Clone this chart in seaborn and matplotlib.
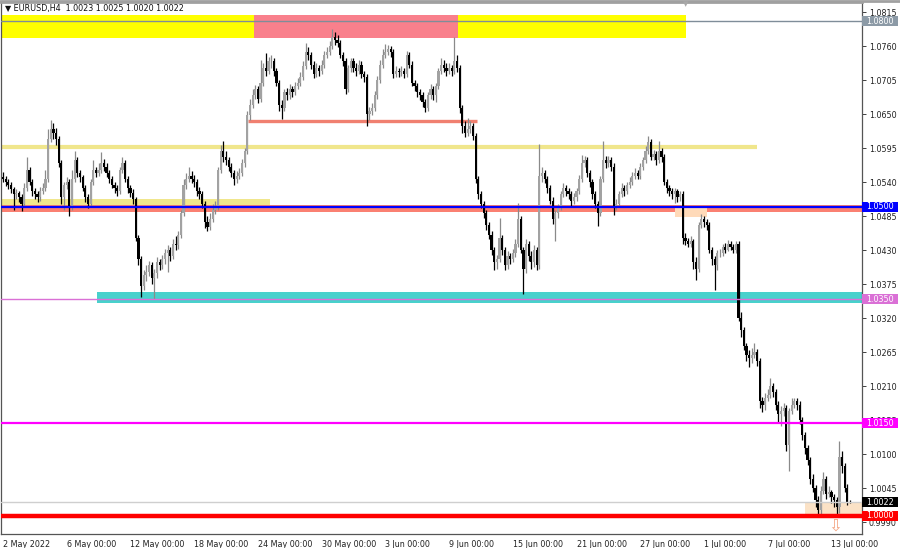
import matplotlib
matplotlib.use("Agg")
import matplotlib.pyplot as plt
import matplotlib.transforms as mtransforms
from matplotlib.lines import Line2D
from matplotlib.patches import Rectangle
import pandas as pd
import seaborn as sns

# ---- data (prices in pips above 1.0000, 4-hour bars from 2 May 2022) ----
title_text = "\u25bc EURUSD,H4  1.0023 1.0025 1.0020 1.0022"
first_open = 548

close_pips = [
    545, 540, 535, 528, 520, 522,  515, 505, 530, 560, 540, 525,
    520, 515, 525, 530, 545, 610,  625, 620, 610, 570, 515, 535,
    540, 500, 545, 575, 555, 548,  530, 515, 505, 540, 560, 555,
    560, 570, 565, 555, 545, 535,  530, 525, 560, 570, 545, 530,
    522, 512, 450, 415, 372, 390,  395, 405, 385, 392, 410, 405,
    415, 425, 430, 420, 440, 438,  455, 490, 535, 545, 550, 545,
    540, 525, 520, 505, 475, 468,  480, 495, 500, 560, 590, 580,
    575, 565, 555, 545, 550, 555,  570, 590, 648, 665, 680, 690,
    675, 700, 725, 720, 735, 735,  720, 700, 665, 660, 685, 680,
    690, 685, 695, 700, 710, 728,  750, 745, 730, 715, 725, 720,
    730, 745, 750, 760, 775, 770,  765, 745, 735, 690, 725, 735,
    725, 720, 730, 715, 710, 650,  655, 660, 680, 705, 730, 745,
    750, 755, 750, 715, 720, 718,  720, 715, 745, 730, 700, 695,
    685, 680, 670, 660, 680, 690,  680, 695, 720, 730, 725, 720,
    725, 720, 735, 725, 660, 630,  620, 625, 630, 615, 545, 520,
    505, 490, 470, 455, 430, 410,  415, 450, 430, 405, 420, 415,
    425, 440, 480, 430, 400, 440,  420, 410, 430, 405, 550, 555,
    545, 530, 510, 480, 490, 500,  520, 530, 525, 520, 510, 515,
    525, 545, 570, 575, 555, 540,  520, 505, 490, 545, 575, 570,
    575, 565, 500, 505, 520, 530,  525, 535, 540, 550, 555, 550,
    565, 575, 590, 605, 580, 585,  575, 590, 580, 540, 530, 525,
    520, 525, 515, 520, 450, 445,  440, 445, 410, 400, 470, 480,
    475, 470, 430, 415, 405, 425,  425, 435, 430, 440, 435, 430,
    440, 320, 300, 275, 260, 255,  260, 265, 250, 185, 180, 190,
    195, 210, 200, 180, 165, 170,  175, 115, 170, 180, 185, 180,
    155, 130, 110, 90, 60, 45,     25, 10, 40, 60, 35, 38,
    30, 25, 15, 95, 80, 45,        23, 22,
]
high_pips = [
    556, 550, 545, 540, 532, 528,  526, 520, 538, 580, 565, 545,
    530, 525, 532, 538, 560, 625,  641, 635, 628, 615, 575, 540,
    548, 545, 560, 590, 580, 560,  552, 535, 520, 545, 575, 565,
    570, 588, 578, 570, 560, 550,  540, 535, 565, 580, 575, 550,
    535, 528, 515, 455, 420, 398,  405, 412, 410, 400, 418, 415,
    422, 432, 438, 435, 448, 452,  460, 495, 545, 555, 564, 558,
    552, 545, 532, 525, 510, 485,  490, 505, 510, 565, 600, 607,
    590, 580, 570, 560, 558, 562,  578, 595, 655, 675, 690, 697,
    695, 737, 732, 748, 742, 745,  740, 725, 705, 672, 690, 692,
    698, 695, 702, 708, 718, 735,  765, 758, 750, 735, 732, 730,
    738, 752, 758, 768, 787, 782,  778, 770, 750, 740, 730, 740,
    740, 732, 738, 735, 720, 715,  662, 668, 688, 712, 738, 755,
    764, 762, 760, 755, 728, 725,  728, 725, 752, 750, 735, 705,
    700, 690, 685, 675, 685, 698,  695, 700, 725, 740, 738, 732,
    732, 730, 774, 745, 730, 665,  638, 643, 638, 635, 620, 550,
    525, 510, 495, 475, 460, 435,  422, 482, 455, 435, 428, 425,
    432, 448, 506, 485, 435, 448,  445, 428, 438, 435, 601, 565,
    560, 550, 535, 515, 495, 505,  525, 538, 535, 530, 525, 522,
    530, 552, 584, 582, 580, 560,  545, 525, 510, 550, 606, 582,
    582, 580, 570, 512, 525, 538,  535, 540, 548, 556, 562, 560,
    570, 580, 598, 615, 610, 592,  590, 606, 595, 585, 545, 535,
    530, 530, 528, 525, 525, 458,  450, 452, 448, 418, 475, 488,
    485, 480, 475, 435, 420, 430,  432, 440, 442, 446, 445, 440,
    445, 445, 330, 305, 280, 268,  272, 280, 270, 255, 192, 198,
    205, 223, 215, 205, 185, 178,  182, 180, 175, 190, 191, 190,
    185, 160, 135, 115, 95, 68,    50, 32, 48, 71, 65, 48,
    42, 35, 30, 121, 105, 85,      52, 25,
]
low_pips = [
    540, 533, 528, 522, 495, 512,  508, 493, 500, 525, 535, 518,
    512, 508, 510, 520, 525, 540,  605, 610, 600, 565, 505, 495,
    528, 485, 495, 540, 548, 540,  525, 508, 498, 500, 535, 548,
    550, 555, 558, 548, 538, 530,  522, 518, 520, 555, 540, 522,
    515, 505, 445, 405, 354, 365,  380, 388, 375, 351, 385, 398,
    400, 408, 395, 412, 415, 430,  432, 450, 485, 528, 540, 538,
    532, 518, 512, 498, 465, 460,  462, 475, 488, 495, 555, 572,
    568, 558, 548, 535, 538, 545,  550, 565, 585, 640, 660, 675,
    668, 670, 695, 712, 715, 725,  712, 695, 655, 642, 655, 672,
    675, 678, 680, 690, 695, 705,  722, 738, 722, 708, 710, 712,
    715, 725, 740, 745, 755, 762,  758, 740, 728, 682, 686, 718,
    718, 712, 715, 708, 702, 630,  640, 648, 655, 675, 700, 725,
    740, 745, 742, 708, 710, 710,  712, 708, 710, 725, 695, 688,
    678, 672, 662, 653, 655, 675,  672, 669, 690, 715, 718, 712,
    715, 712, 715, 718, 652, 620,  612, 615, 620, 608, 538, 512,
    498, 482, 462, 448, 422, 398,  400, 410, 422, 397, 400, 408,
    410, 418, 435, 425, 359, 392,  412, 400, 402, 398, 400, 540,
    538, 522, 505, 472, 445, 482,  495, 515, 518, 512, 500, 505,
    510, 520, 540, 565, 548, 532,  512, 498, 469, 485, 540, 562,
    565, 558, 487, 495, 500, 515,  518, 520, 530, 535, 545, 545,
    545, 560, 570, 585, 575, 575,  568, 570, 572, 535, 522, 518,
    512, 506, 508, 510, 440, 438,  435, 435, 400, 382, 395, 465,
    468, 462, 425, 405, 366, 398,  418, 420, 425, 428, 430, 425,
    425, 315, 290, 268, 250, 240,  248, 255, 242, 175, 168, 172,
    185, 190, 192, 172, 150, 145,  162, 105, 72, 165, 175, 172,
    148, 122, 100, 82, 52, 38,     15, 0, 2, 35, 28, 30,
    20, 15, 2, 5, 70, 38,          18, 20,
]

date_label_bars = [0, 24, 48, 72, 96, 120, 144, 168, 192, 216, 240, 264, 288, 312]
date_labels = ["2 May 2022", "6 May 00:00", "12 May 00:00", "18 May 00:00",
               "24 May 00:00", "30 May 00:00", "3 Jun 00:00", "9 Jun 00:00",
               "15 Jun 00:00", "21 Jun 00:00", "27 Jun 00:00", "1 Jul 00:00",
               "7 Jul 00:00", "13 Jul 00:00"]

price_ticks = [1.0815, 1.0760, 1.0705, 1.0650, 1.0595, 1.0540, 1.0485, 1.0430,
               1.0375, 1.0320, 1.0265, 1.0210, 1.0155, 1.0100, 1.0045, 0.9990]

# rectangles drawn on the chart: start bar, end bar (None = edge), low, high, colour
zones = [
    (None, 257.3, 1.0773, 1.0810, "#ffff00"),
    (94.5, 171.4, 1.0773, 1.0810, "#f9808c"),
    (None, 100.6, 1.0503, 1.0513, "#f0e68c"),
    (None, None, 1.0491, 1.0503, "#fa8072"),
    (253.0, 265.0, 1.0483, 1.0500, "#ffdab9"),
    (35.4, None, 1.0344, 1.0362, "#48d1cc"),
    (302.0, None, 1.0003, 1.0021, "#fbe2c6"),
]
# level segments: start bar, end bar, price, colour, width
segments = [
    (92.3, 178.5, 1.0639, "#f08070", 2.4),
    (None, 284.0, 1.0597, "#f0e68c", 3.0),
]
# horizontal lines across the chart with their price tag colour
levels = [
    (1.0800, "#7f8d99", 1.0, "#8c9aa6"),
    (1.0500, "#0000ff", 1.6, "#0000ff"),
    (1.0350, "#da70d6", 1.0, "#da70d6"),
    (1.0150, "#ff00ff", 1.6, "#ff00ff"),
    (1.0022, "#cfcfcf", 1.0, "#000000"),
    (1.0000, "#ff0000", 3.2, "#ff0000"),
]

# ---- build frame ----
df = pd.DataFrame({"close": close_pips, "high": high_pips, "low": low_pips})
df["open"] = [first_open] + close_pips[:-1]
df = 1.0 + df / 10000.0
df["bar"] = range(len(df))
df["bull"] = df["close"] >= df["open"]

sns.set_theme(style="white")
plt.rcParams["font.family"] = ["DejaVu Sans"]

fig = plt.figure(figsize=(9, 5.48), dpi=100)
ax = fig.add_axes([1 / 900, 14 / 548, 861 / 900, 532 / 548])
x_lo, x_hi = -0.75, 323.5
ax.set_xlim(x_lo, x_hi)
ax.set_ylim(0.997061, 1.083118)

for x0, x1, lo, hi, col in zones:
    x0 = x_lo if x0 is None else x0
    x1 = x_hi if x1 is None else x1
    ax.fill_between([x0, x1], lo, hi, color=col, linewidth=0, zorder=1)

for x0, x1, p, col, lw in segments:
    x0 = x_lo if x0 is None else x0
    ax.hlines(p, x0, x1, color=col, lw=lw, zorder=1.5)

# candles
bull = df[df["bull"]]
bear = df[~df["bull"]]
ax.vlines(bull["bar"], bull["low"], bull["high"], color="#8a8a8a", lw=0.9, zorder=3)
ax.vlines(bear["bar"], bear["low"], bear["high"], color="#000000", lw=0.9, zorder=3)
body_min = 0.00004
ax.bar(bull["bar"], (bull["close"] - bull["open"]).clip(lower=body_min), bottom=bull["open"],
       width=0.82, color="#a2a2a2", linewidth=0, zorder=3.1)
ax.bar(bear["bar"], (bear["open"] - bear["close"]).clip(lower=body_min), bottom=bear["close"],
       width=0.82, color="#000000", linewidth=0, zorder=3.1)

# level lines + price tags on the axis
trans = mtransforms.blended_transform_factory(ax.transAxes, ax.transData)
tag_w = 36 / 861
tag_h = 10 / 6182
for p, col, lw, tag in levels:
    ax.axhline(p, color=col, lw=lw, zorder=4)
    ax.add_patch(Rectangle((1.0, p - tag_h / 2), tag_w, tag_h, transform=trans,
                           fc=tag, ec="none", clip_on=False, zorder=9))
    ax.text(1.0 + 4 / 861, p, f"{p:.4f}", transform=trans, ha="left", va="center",
            fontsize=5.8, color="white", clip_on=False, zorder=10)

# axes styling
ax.yaxis.tick_right()
ax.set_yticks(price_ticks)
ax.set_yticklabels([f"{v:.4f}" for v in price_ticks])
ax.set_xticks(date_label_bars)
ax.set_xticklabels(date_labels)
for lab in ax.get_xticklabels():
    lab.set_ha("left")
ax.tick_params(axis="y", direction="out", length=3, width=0.6, pad=2,
               labelsize=5.8, colors="#222222")
ax.tick_params(axis="x", direction="out", length=3, width=0.6, pad=1.5,
               labelsize=5.8, colors="#222222")
for side in ["left", "bottom", "right"]:
    ax.spines[side].set_color("#555555")
    ax.spines[side].set_linewidth(0.9)
ax.spines["top"].set_color("#a0a0a0")
ax.spines["top"].set_linewidth(2)
ax.grid(False)

fig.add_artist(Line2D([0, 1], [1 - 1 / 548, 1 - 1 / 548], color="#a0a0a0", lw=2))
fig.text(5 / 900, 1 - 8 / 548, title_text, fontsize=5.8, va="center", color="#111111")
fig.text(686 / 900, 1 - 4 / 548, "\u25bc", fontsize=5, va="center", ha="center", color="#a8a8a8")
ax.text(313.5, 0.99845, "\u21e9", fontsize=12, ha="center", va="center",
        color="#f4a582", zorder=6, clip_on=False)

fig.savefig("out.png", dpi=100)
